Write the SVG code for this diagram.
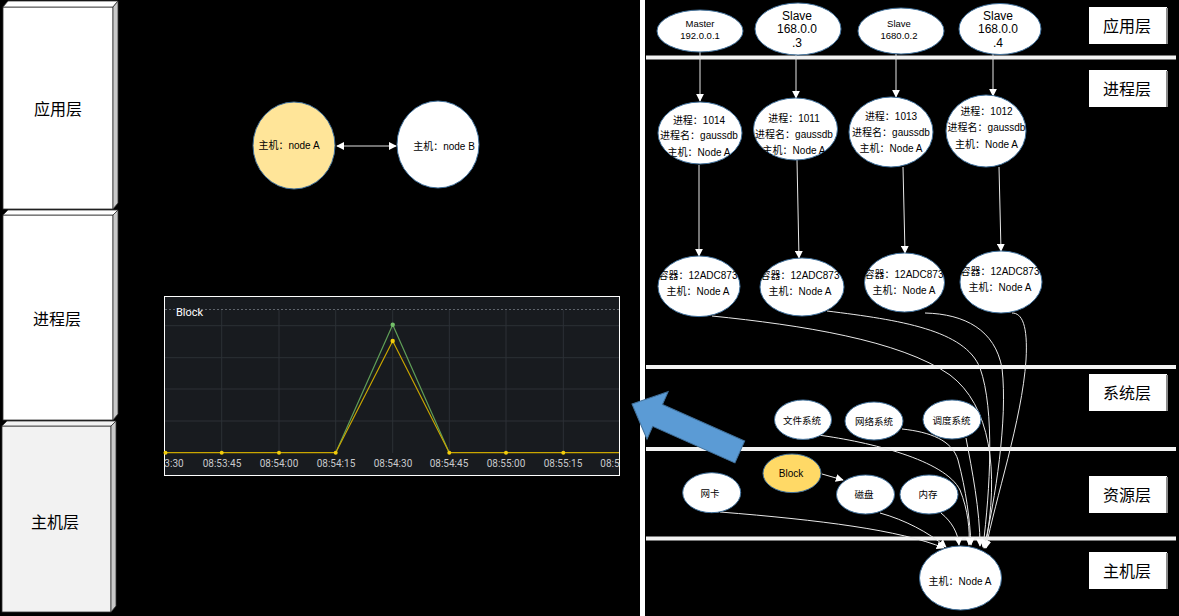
<svg xmlns="http://www.w3.org/2000/svg" width="1179" height="616" viewBox="0 0 1179 616">
<defs>
<style>
.t{font-family:"Liberation Sans","Noto Sans CJK SC",sans-serif;fill:#000;text-anchor:middle;dominant-baseline:central}
.big{font-size:16px}
.s10{font-size:10px}
.s9{font-size:9.5px}
.s12{font-size:12px}
.node{fill:#fff;stroke:#41719c;stroke-width:1}
.cf{stroke:#333;stroke-width:0.8}
.con{fill:none;stroke:#e8e8e8;stroke-width:1}
.bar{fill:#f2f2f2}
.lbl{fill:#fff}
.lbe{stroke:#8a8a8a;stroke-width:2}
.grid{stroke:#2c3036;stroke-width:1}
.ax{font-family:Roboto,"Liberation Sans",sans-serif;font-size:10px;fill:#c8c9cc;text-anchor:middle}
</style>
<marker id="ah" viewBox="0 0 10 10" refX="9" refY="5" markerWidth="8" markerHeight="8" markerUnits="userSpaceOnUse" orient="auto-start-reverse"><path d="M0,0 L10,5 L0,10 z" fill="#fff"/></marker>
</defs>
<rect x="0" y="0" width="1179" height="616" fill="#000"/>

<!-- left cubes -->
<g id="cube-app">
<rect class="cf" x="3" y="7" width="110" height="202" fill="#fff"/>
<polygon class="cf" points="3,7 8,1 118,1 113,7" fill="#fff"/>
<polygon class="cf" points="113,7 118,1 118,203 113,209" fill="#c8c8c8"/>
<text class="t big" x="58" y="109">应用层</text>
</g>
<g id="cube-proc">
<rect class="cf" x="3" y="215" width="110" height="205" fill="#fff"/>
<polygon class="cf" points="3,215 8,210 118,210 113,215" fill="#fff"/>
<polygon class="cf" points="113,215 118,210 118,414 113,420" fill="#c8c8c8"/>
<text class="t big" x="57" y="319">进程层</text>
</g>
<g id="cube-host">
<rect class="cf" x="2" y="426" width="109" height="186" fill="#f2f2f2"/>
<polygon class="cf" points="2,426 7,421 116,421 111,426" fill="#f2f2f2"/>
<polygon class="cf" points="111,426 116,421 116,606 111,612" fill="#c8c8c8"/>
<text class="t big" x="55" y="522">主机层</text>
</g>

<!-- left nodes -->
<g id="left-nodeA">
<ellipse cx="294" cy="145.5" rx="41" ry="43.5" fill="#ffe599" stroke="#41719c" stroke-width="1"/>
<text class="t s10" x="289" y="145">主机：node A</text>
</g>
<g id="left-nodeB">
<ellipse class="node" cx="438" cy="144.5" rx="41" ry="43.5"/>
<text class="t s10" x="444" y="146">主机：node B</text>
</g>
<g id="left-connectors">
<path d="M337,146 L396,146" stroke="#e0e0e0" stroke-width="1.2" fill="none" marker-start="url(#ah)" marker-end="url(#ah)"/>
</g>

<!-- chart -->
<g id="chart">
<rect x="164.5" y="296.5" width="455" height="179" fill="#181b1f" stroke="#fff" stroke-width="1"/>
<line x1="165" y1="309.5" x2="619" y2="309.5" stroke="#5f646b" stroke-dasharray="2,2"/>
<g class="grid">
<line x1="165" y1="325.7" x2="619" y2="325.7"/>
<line x1="165" y1="357.7" x2="619" y2="357.7"/>
<line x1="165" y1="389" x2="619" y2="389"/>
<line x1="165" y1="421" x2="619" y2="421"/>
<line x1="221.7" y1="310" x2="221.7" y2="453"/>
<line x1="279" y1="310" x2="279" y2="453"/>
<line x1="335.7" y1="310" x2="335.7" y2="453"/>
<line x1="392.7" y1="310" x2="392.7" y2="453"/>
<line x1="449.3" y1="310" x2="449.3" y2="453"/>
<line x1="506" y1="310" x2="506" y2="453"/>
<line x1="563.3" y1="310" x2="563.3" y2="453"/>
</g>
<text x="176" y="316" font-family="Roboto,'Liberation Sans',sans-serif" font-size="11" fill="#fff">Block</text>
<polyline points="335.7,452.7 392.7,324.7 449.3,452.7" fill="none" stroke="#5f9e57" stroke-width="1.2"/>
<polyline points="165,452.7 221.7,452.7 279,452.7 335.7,452.7 392.7,341 449.3,452.7 506,452.7 563.3,452.7 619,452.7" fill="none" stroke="#c9a600" stroke-width="1.2"/>
<circle cx="392.7" cy="324.7" r="2.2" fill="#73bf69"/>
<g fill="#f2cc0c">
<circle cx="165.5" cy="452.7" r="2"/>
<circle cx="221.7" cy="452.7" r="2"/>
<circle cx="279" cy="452.7" r="2"/>
<circle cx="335.7" cy="452.7" r="2"/>
<circle cx="392.7" cy="341" r="2.2"/>
<circle cx="449.3" cy="452.7" r="2"/>
<circle cx="506" cy="452.7" r="2"/>
<circle cx="563.3" cy="452.7" r="2"/>
</g>
<text class="ax" x="174" y="467">3:30</text>
<text class="ax" x="222" y="467">08:53:45</text>
<text class="ax" x="279" y="467">08:54:00</text>
<text class="ax" x="336" y="467">08:54:15</text>
<text class="ax" x="393" y="467">08:54:30</text>
<text class="ax" x="449" y="467">08:54:45</text>
<text class="ax" x="506" y="467">08:55:00</text>
<text class="ax" x="563" y="467">08:55:15</text>
<text class="ax" x="610" y="467">08:5</text>
</g>

<!-- divider -->
<rect x="640" y="0" width="5" height="616" fill="#fff"/>

<!-- layer bars -->
<g id="bars">
<rect class="bar" x="646" y="55.5" width="530" height="4"/>
<rect class="bar" x="646" y="365" width="530" height="4"/>
<rect class="bar" x="646" y="447" width="530" height="4"/>
<rect class="bar" x="646" y="536.5" width="530" height="4"/>
</g>

<!-- blue arrow -->
<g id="blue-arrow" transform="translate(632,404) rotate(24)">
<polygon points="0,0 28,-26 28,-12 118,-12 118,12 28,12 28,26" fill="#5b9bd5" stroke="#41719c" stroke-width="1"/>
</g>

<!-- right labels -->
<g id="lbl-app"><rect class="lbl" x="1089" y="7" width="78" height="37"/><line class="lbe" x1="1167" y1="8" x2="1167" y2="44"/><text class="t big" x="1127" y="26">应用层</text></g>
<g id="lbl-proc"><rect class="lbl" x="1089" y="70" width="78" height="37"/><line class="lbe" x1="1167" y1="71" x2="1167" y2="107"/><text class="t big" x="1127" y="89">进程层</text></g>
<g id="lbl-sys"><rect class="lbl" x="1089" y="374" width="78" height="37"/><line class="lbe" x1="1167" y1="375" x2="1167" y2="411"/><text class="t big" x="1127" y="393">系统层</text></g>
<g id="lbl-res"><rect class="lbl" x="1089" y="476" width="78" height="37"/><line class="lbe" x1="1167" y1="477" x2="1167" y2="513"/><text class="t big" x="1127" y="495">资源层</text></g>
<g id="lbl-host"><rect class="lbl" x="1089" y="552" width="78" height="37"/><line class="lbe" x1="1167" y1="553" x2="1167" y2="589"/><text class="t big" x="1127" y="571">主机层</text></g>

<!-- connectors -->
<g id="connectors">
<path class="con" d="M700,52 L700,101" marker-end="url(#ah)"/>
<path class="con" d="M796,55 L796,98" marker-end="url(#ah)"/>
<path class="con" d="M896,54 L896,97" marker-end="url(#ah)"/>
<path class="con" d="M993,54 L993,96" marker-end="url(#ah)"/>
<path class="con" d="M699,165 L699,256" marker-end="url(#ah)"/>
<path class="con" d="M797,160 L799,258" marker-end="url(#ah)"/>
<path class="con" d="M903,167 L905,253" marker-end="url(#ah)"/>
<path class="con" d="M999,167 L1001,251" marker-end="url(#ah)"/>
<path class="con" d="M712,316 C800,325 900,340 950,375 C990,405 1000,470 985,548" marker-end="url(#ah)"/>
<path class="con" d="M827,311 C900,320 965,330 980,368 C995,410 990,490 983,547" marker-end="url(#ah)"/>
<path class="con" d="M925,313 C965,314 995,330 1002,368 C1008,420 995,500 984,548" marker-end="url(#ah)"/>
<path class="con" d="M1012,313 C1022,313 1028,325 1026,360 C1022,420 995,500 986,548" marker-end="url(#ah)"/>
<path class="con" d="M818,435 C870,442 945,460 960,490 C968,510 970,530 969,545" marker-end="url(#ah)"/>
<path class="con" d="M902,429 C930,432 952,440 958,460 C966,490 970,520 971,545" marker-end="url(#ah)"/>
<path class="con" d="M966,438 C972,470 980,510 980,546" marker-end="url(#ah)"/>
<path class="con" d="M720,512 C820,520 900,530 944,548" marker-end="url(#ah)"/>
<path class="con" d="M880,513 C905,520 928,532 946,547" marker-end="url(#ah)"/>
<path class="con" d="M941,513 C952,522 958,533 959,545" marker-end="url(#ah)"/>
<path class="con" d="M822,474 L843,480" marker-end="url(#ah)"/>
</g>

<!-- app layer -->
<g id="app-master"><ellipse class="node" cx="700" cy="31" rx="43" ry="21"/><text class="t s9" x="700" y="23">Master</text><text class="t s9" x="700" y="35">192.0.0.1</text></g>
<g id="app-slave3"><ellipse class="node" cx="798" cy="29" rx="43" ry="26"/><text class="t s12" x="797" y="15.5">Slave</text><text class="t s12" x="797" y="28.5">168.0.0</text><text class="t s12" x="797" y="43">.3</text></g>
<g id="app-slave2"><ellipse class="node" cx="901" cy="31" rx="43" ry="23"/><text class="t s9" x="899" y="23.4">Slave</text><text class="t s9" x="899" y="35">1680.0.2</text></g>
<g id="app-slave4"><ellipse class="node" cx="1000" cy="29" rx="41" ry="25.5"/><text class="t s12" x="998" y="15.5">Slave</text><text class="t s12" x="998" y="28.5">168.0.0</text><text class="t s12" x="998" y="43">.4</text></g>

<!-- process layer -->
<g id="proc-1014"><ellipse class="node" cx="700" cy="133" rx="42" ry="31"/><text class="t s10" x="699" y="120">进程：1014</text><text class="t s10" x="699" y="135.7">进程名：gaussdb</text><text class="t s10" x="699" y="152.3">主机：Node A</text></g>
<g id="proc-1011"><ellipse class="node" cx="795.5" cy="129" rx="42" ry="31"/><text class="t s10" x="794" y="118.3">进程：1011</text><text class="t s10" x="794" y="134">进程名：gaussdb</text><text class="t s10" x="794" y="150">主机：Node A</text></g>
<g id="proc-1013"><ellipse class="node" cx="891" cy="132" rx="42" ry="35"/><text class="t s10" x="891" y="116.7">进程：1013</text><text class="t s10" x="891" y="132.3">进程名：gaussdb</text><text class="t s10" x="891" y="148.3">主机：Node A</text></g>
<g id="proc-1012"><ellipse class="node" cx="986" cy="131" rx="40" ry="36"/><text class="t s10" x="986.5" y="111.7">进程：1012</text><text class="t s10" x="986.5" y="127.7">进程名：gaussdb</text><text class="t s10" x="986.5" y="144.3">主机：Node A</text></g>

<!-- container layer -->
<g id="ctr-1"><ellipse class="node" cx="699" cy="286.3" rx="41" ry="30.3"/><text class="t s10" x="698" y="275.7">容器：12ADC873</text><text class="t s10" x="698" y="291.7">主机：Node A</text></g>
<g id="ctr-2"><ellipse class="node" cx="802" cy="287" rx="42" ry="29"/><text class="t s10" x="800" y="275">容器：12ADC873</text><text class="t s10" x="800" y="291.7">主机：Node A</text></g>
<g id="ctr-3"><ellipse class="node" cx="904.5" cy="282.5" rx="40" ry="29.5"/><text class="t s10" x="904" y="274.3">容器：12ADC873</text><text class="t s10" x="904" y="290.7">主机：Node A</text></g>
<g id="ctr-4"><ellipse class="node" cx="1001" cy="282" rx="41" ry="31"/><text class="t s10" x="1000" y="271.7">容器：12ADC873</text><text class="t s10" x="1000" y="287.7">主机：Node A</text></g>

<!-- system layer -->
<g id="sys-fs"><ellipse class="node" cx="803" cy="419.7" rx="28.5" ry="19.7"/><text class="t s9" x="802" y="420">文件系统</text></g>
<g id="sys-net"><ellipse class="node" cx="874" cy="421" rx="29" ry="19"/><text class="t s9" x="874" y="421.5">网络系统</text></g>
<g id="sys-sched"><ellipse class="node" cx="952" cy="419.5" rx="29" ry="19.5"/><text class="t s9" x="951.5" y="420">调度系统</text></g>

<!-- resource layer -->
<g id="res-nic"><ellipse class="node" cx="711.7" cy="492.7" rx="29" ry="20"/><text class="t s9" x="710" y="493">网卡</text></g>
<g id="res-block"><ellipse cx="792" cy="473.3" rx="29" ry="19.3" fill="#ffd966" stroke="#41719c" stroke-width="1"/><text class="t s10" x="791" y="473.7">Block</text></g>
<g id="res-disk"><ellipse class="node" cx="865.5" cy="494.5" rx="29" ry="19.5"/><text class="t s9" x="864" y="494.5">磁盘</text></g>
<g id="res-mem"><ellipse class="node" cx="929" cy="494.5" rx="29" ry="19.5"/><text class="t s9" x="928" y="494.5">内存</text></g>

<!-- host -->
<g id="host-nodeA"><ellipse class="node" cx="960.5" cy="578" rx="41" ry="32"/><text class="t s10" x="960" y="581">主机：Node A</text></g>
</svg>
